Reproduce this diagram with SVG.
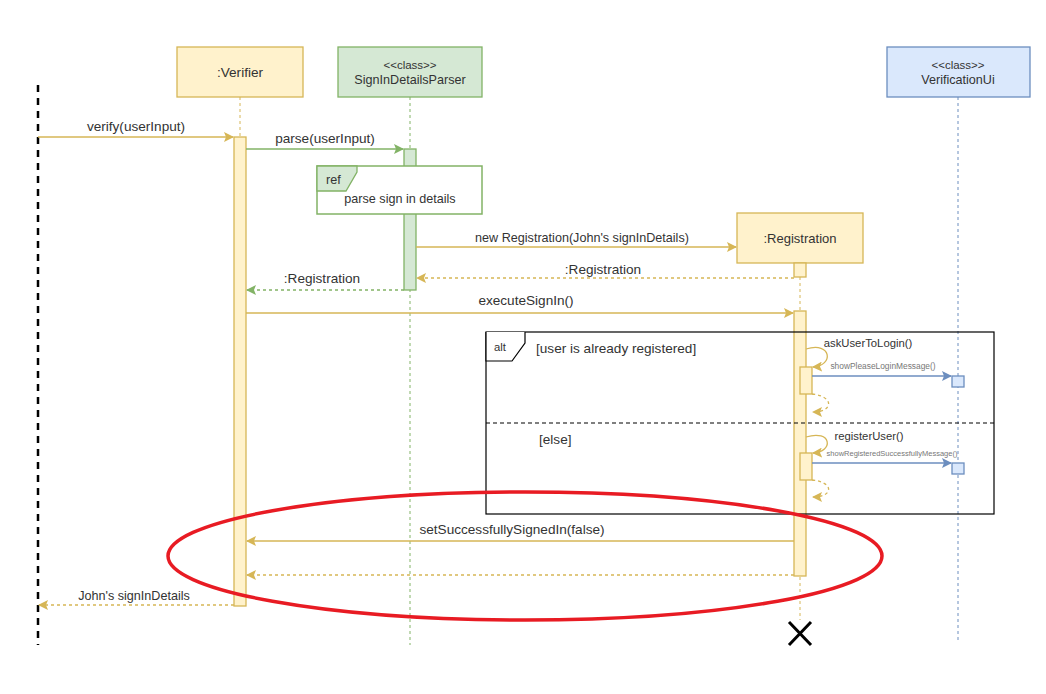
<svg xmlns="http://www.w3.org/2000/svg" width="1046" height="694" viewBox="0 0 1046 694">
<style>
text{font-family:"Liberation Sans",Arial,sans-serif;fill:#333;}
.y{fill:#fff2cc;stroke:#d6b656;stroke-width:1.3;}
.g{fill:#d5e8d4;stroke:#82b366;stroke-width:1.3;}
.b{fill:#dae8fc;stroke:#6c8ebf;stroke-width:1.3;}
.ly{stroke:#d6b656;stroke-dasharray:3,3;fill:none;}
.lg{stroke:#82b366;stroke-dasharray:3,3;fill:none;}
.lb{stroke:#6c8ebf;stroke-dasharray:3,3;fill:none;}
.my{stroke:#d6b656;stroke-width:1.3;fill:none;}
.ry{stroke:#d6b656;stroke-width:1.3;fill:none;stroke-dasharray:3,3;}
.mg{stroke:#82b366;stroke-width:1.3;fill:none;}
.rg{stroke:#82b366;stroke-width:1.3;fill:none;stroke-dasharray:3,3;}
.mb{stroke:#6c8ebf;stroke-width:1.3;fill:none;}
.t13{font-size:13.6px;}
.tn{font-size:13px;}
.t12{font-size:12.6px;}
.t11{font-size:11.3px;}
.tc{font-size:11.5px;}
.t8{font-size:8.4px;}
.t7{font-size:7.5px;}
</style>
<defs>
<marker id="ay" markerWidth="10" markerHeight="10" refX="9" refY="5" orient="auto" markerUnits="userSpaceOnUse"><path d="M0,0 L10,5 L0,10 L2,5 Z" fill="#d6b656"/></marker>
<marker id="ag" markerWidth="10" markerHeight="10" refX="9" refY="5" orient="auto" markerUnits="userSpaceOnUse"><path d="M0,0 L10,5 L0,10 L2,5 Z" fill="#82b366"/></marker>
<marker id="ab" markerWidth="10" markerHeight="10" refX="9" refY="5" orient="auto" markerUnits="userSpaceOnUse"><path d="M0,0 L10,5 L0,10 L2,5 Z" fill="#6c8ebf"/></marker>
</defs>
<rect width="1046" height="694" fill="#fff"/>

<g id="actor-line"><line x1="38" y1="85" x2="38" y2="645" stroke="#000" stroke-width="2.5" stroke-dasharray="7,6"/></g>

<g id="verifier">
<line class="ly" x1="240" y1="97" x2="240" y2="606"/>
<rect class="y" x="177" y="47" width="126" height="50"/>
<text class="t13" x="240" y="77" text-anchor="middle">:Verifier</text>
<rect class="y" x="234" y="137" width="12" height="469"/>
</g>

<g id="parser">
<line class="lg" x1="410" y1="97" x2="410" y2="645"/>
<rect class="g" x="338" y="47" width="144" height="50"/>
<text class="tc" x="410" y="69" text-anchor="middle">&lt;&lt;class&gt;&gt;</text>
<text class="t12" x="410" y="84" text-anchor="middle">SignInDetailsParser</text>
<rect class="g" x="404" y="149" width="12" height="141"/>
</g>

<g id="ref">
<rect x="317" y="166" width="165" height="48" fill="#fff" stroke="#82b366" stroke-width="1.5"/>
<path d="M317,166 H357 V172 L346,191 H317 Z" fill="#d5e8d4" stroke="#82b366" stroke-width="1.3"/>
<text class="t12" x="326" y="184">ref</text>
<text class="t12" x="400" y="203" text-anchor="middle">parse sign in details</text>
</g>

<g id="registration">
<line class="ly" x1="800" y1="277" x2="800" y2="620"/>
<rect class="y" x="737" y="213" width="126" height="50"/>
<text class="tn" x="800" y="243" text-anchor="middle">:Registration</text>
<rect class="y" x="794" y="263" width="12" height="14"/>
<rect class="y" x="794" y="311" width="12" height="265"/>
<path d="M789,622 L811,645 M811,622 L789,645" stroke="#000" stroke-width="3"/>
</g>

<g id="verificationui">
<line class="lb" x1="958" y1="97" x2="958" y2="640"/>
<rect class="b" x="887" y="47" width="143" height="50"/>
<text class="tc" x="958" y="69" text-anchor="middle">&lt;&lt;class&gt;&gt;</text>
<text class="t12" x="958" y="84" text-anchor="middle">VerificationUi</text>
</g>

<g id="alt">
<rect x="486" y="332" width="508" height="182" fill="none" stroke="#000" stroke-width="1.2"/>
<path d="M486,332 V361 H512 L525,343 V332" fill="#fff" stroke="#000" stroke-width="1.2"/>
<text class="t11" x="494" y="351">alt</text>
<text class="t13" x="536" y="353">[user is already registered]</text>
<line x1="486" y1="423" x2="994" y2="423" stroke="#000" stroke-width="1.2" stroke-dasharray="4,3"/>
<text class="t13" x="539" y="444">[else]</text>
</g>

<g id="inner-activations">
<rect class="y" x="800" y="367" width="12" height="27"/>
<rect class="b" x="952" y="376" width="12" height="11"/>
<rect class="y" x="800" y="453" width="12" height="27"/>
<rect class="b" x="952" y="463" width="12" height="11"/>
</g>

<g id="connectors">
<line class="my" x1="38" y1="137" x2="233" y2="137" marker-end="url(#ay)"/>
<text class="t13" x="136" y="131" text-anchor="middle">verify(userInput)</text>

<line class="mg" x1="246" y1="149" x2="403" y2="149" marker-end="url(#ag)"/>
<text class="t13" x="325" y="143" text-anchor="middle">parse(userInput)</text>

<line class="my" x1="416" y1="247" x2="736" y2="247" marker-end="url(#ay)"/>
<text class="t12" x="582" y="242" text-anchor="middle">new Registration(John's signInDetails)</text>

<line class="ry" x1="794" y1="278" x2="417" y2="278" marker-end="url(#ay)"/>
<text class="t13" x="603" y="274" text-anchor="middle">:Registration</text>

<line class="rg" x1="404" y1="290" x2="247" y2="290" marker-end="url(#ag)"/>
<text class="t13" x="322" y="283" text-anchor="middle">:Registration</text>

<line class="my" x1="246" y1="313" x2="793" y2="313" marker-end="url(#ay)"/>
<text class="t13" x="526" y="305" text-anchor="middle">executeSignIn()</text>

<path class="my" d="M806,349 C832,341 834,366 813,367" marker-end="url(#ay)"/>
<text class="t11" x="868" y="347" text-anchor="middle">askUserToLogin()</text>
<line class="mb" x1="812" y1="376" x2="951" y2="376" marker-end="url(#ab)"/>
<text class="t8" x="883" y="369" text-anchor="middle" style="fill:#777">showPleaseLoginMessage()</text>
<path class="ry" d="M812,394 C834,396 834,412 813,412" marker-end="url(#ay)"/>

<path class="my" d="M806,437 C832,429 834,452 813,453" marker-end="url(#ay)"/>
<text class="t11" x="869" y="440" text-anchor="middle">registerUser()</text>
<line class="mb" x1="812" y1="463" x2="951" y2="463" marker-end="url(#ab)"/>
<text class="t7" x="892" y="456" text-anchor="middle" style="fill:#777">showRegisteredSuccessfullyMessage()</text>
<path class="ry" d="M812,480 C834,482 834,497 813,497" marker-end="url(#ay)"/>

<line class="my" x1="794" y1="541" x2="247" y2="541" marker-end="url(#ay)"/>
<text class="t13" x="512" y="534" text-anchor="middle">setSuccessfullySignedIn(false)</text>

<line class="ry" x1="794" y1="575" x2="247" y2="575" marker-end="url(#ay)"/>

<line class="ry" x1="234" y1="605" x2="39" y2="605" marker-end="url(#ay)"/>
<text class="t12" x="134" y="600" text-anchor="middle">John's signInDetails</text>
</g>

<g id="highlight">
<ellipse cx="525" cy="556" rx="357" ry="64" fill="none" stroke="#e81b23" stroke-width="3.5"/>
</g>
</svg>
